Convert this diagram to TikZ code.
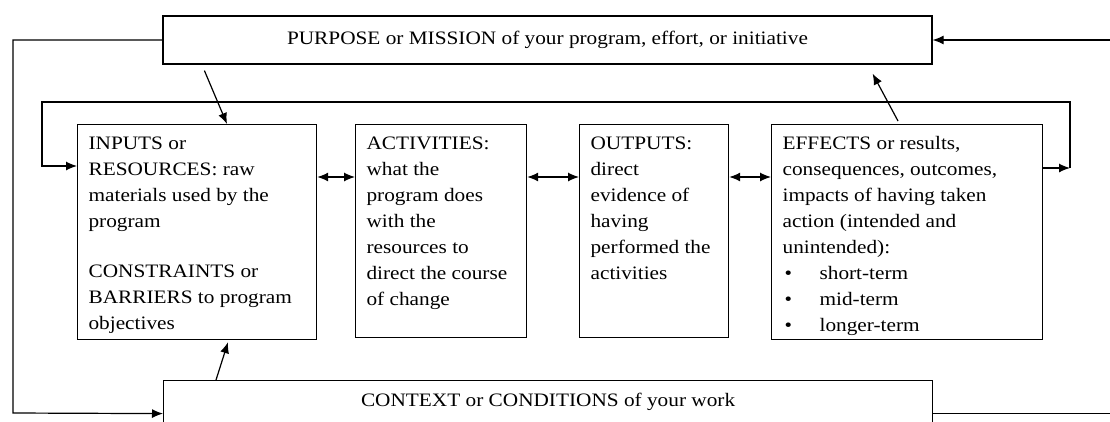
\documentclass[tikz,border=0pt]{standalone}
\usepackage{fontspec}
\setmainfont[FakeStretch=1.12]{Liberation Serif}
\usetikzlibrary{arrows.meta}
\newcommand{\stagetext}[3]{\parbox[c][#2][t]{#1}{\raggedright #3}}
\newcommand{\bulletitem}[1]{\hspace*{2pt}\makebox[35pt][l]{\textbullet}#1}

\begin{document}
\begin{tikzpicture}[x=1pt, y=-1pt, line width=1.2pt,
    >={Latex[length=11pt,width=9pt]},
    frame/.style={draw, font=\fontsize{19}{26}\selectfont},
    stage/.style={frame, anchor=north west, inner xsep=11pt, inner ysep=12pt}]
    \useasboundingbox (0,0) rectangle (1110,421);

    % Purpose and context
    \node[frame, minimum width=769pt, minimum height=48pt] (purpose) at (547.5,40) {PURPOSE or MISSION of your program, effort, or initiative};
    \node[frame, anchor=north west, minimum width=769pt, inner ysep=6pt, text height=20pt, text depth=34pt] (context) at (163,380) {CONTEXT or CONDITIONS of your work};

    % Stages
    \node[stage] (inputs) at (77,124) {\stagetext{217pt}{191pt}{INPUTS or\\ RESOURCES: raw\\ materials used by the\\ program\\[24pt] CONSTRAINTS or\\ BARRIERS to program\\ objectives}};
    \node[stage] (activities) at (355,124) {\stagetext{149pt}{189pt}{ACTIVITIES:\\ what the\\ program does\\ with the\\ resources to\\ direct the course\\ of change}};
    \node[stage] (outputs) at (579,124) {\stagetext{127pt}{189pt}{OUTPUTS:\\ direct\\ evidence of\\ having\\ performed the\\ activities}};
    \node[stage] (effects) at (771,124) {\stagetext{249pt}{191pt}{EFFECTS or results,\\ consequences, outcomes,\\ impacts of having taken\\ action (intended and\\ unintended):\\ \bulletitem{short-term}\\ \bulletitem{mid-term}\\ \bulletitem{longer-term}}};

    % Outer loop
    \coordinate (outerL) at (13,413);
    \coordinate (outerR) at (1110,40);
    \draw[->] (purpose.west) -| (outerL) -- (context.west);
    \draw[->] (outerR) -- (purpose.east);
    \draw (context.east) -- (context.east -| outerR);

    % Inner loop
    \coordinate (innerL) at (42,102);
    \coordinate (innerR) at (1070,168);
    \draw[->] ([yshift=-44pt]effects.north east) -- (innerR);
    \draw[->] (innerR) |- (innerL) |- ([yshift=-42pt]inputs.north west);

    % Between stages
    \draw[<->] ([yshift=-53pt]inputs.north east) -- ([yshift=-53pt]activities.north west);
    \draw[<->] ([yshift=-53pt]activities.north east) -- ([yshift=-53pt]outputs.north west);
    \draw[<->] ([yshift=-53pt]outputs.north east) -- ([yshift=-53pt]effects.north west);

    % Influences
    \draw[->] ([shift={(42pt,-6pt)}]purpose.south west) -- ([xshift=150pt]inputs.north west);
    \draw[->] ([shift={(127pt,3pt)}]effects.north west) -- ([shift={(-60pt,-9pt)}]purpose.south east);
    \draw[->] ([xshift=53pt]context.north west) -- ([shift={(151pt,-2pt)}]inputs.south west);
\end{tikzpicture}
\end{document}
